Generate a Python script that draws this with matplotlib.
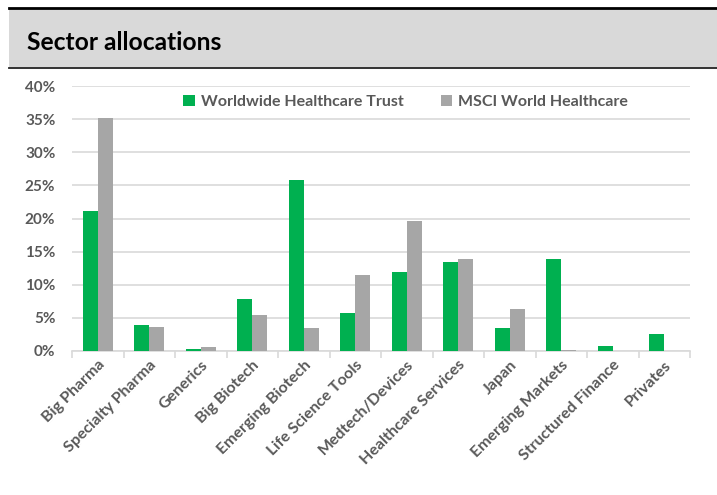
import matplotlib
matplotlib.use("Agg")
import matplotlib.pyplot as plt
import numpy as np
from matplotlib.patches import Rectangle
from matplotlib.lines import Line2D

categories = ["Big Pharma", "Specialty Pharma", "Generics", "Big Biotech", "Emerging Biotech",
              "Life Science Tools", "Medtech/Devices", "Healthcare Services", "Japan",
              "Emerging Markets", "Structured Finance", "Privates"]
trust = [21.2, 4.0, 0.3, 7.8, 25.8, 5.8, 11.9, 13.5, 3.4, 13.9, 0.75, 2.5]
msci = [35.2, 3.6, 0.55, 5.4, 3.4, 11.5, 19.6, 13.9, 6.4, 0.1, 0.0, 0.0]
series_names = ["Worldwide Healthcare Trust", "MSCI World Healthcare"]
yticks = [0, 5, 10, 15, 20, 25, 30, 35, 40]

GREEN = "#00B050"
GREY = "#A6A6A6"
TXT = "#595959"
FONT = "Lato"

fig = plt.figure(figsize=(7.17, 4.95), dpi=100)
W, H = 717, 495

# title band
fig.patches.append(Rectangle((9 / W, 1 - 67 / H), 1 - 9 / W, (67 - 9) / H,
                             transform=fig.transFigure, facecolor="#D9D9D9", edgecolor="none", zorder=0))
fig.lines.append(Line2D([9 / W, 1], [1 - 8 / H, 1 - 8 / H], transform=fig.transFigure, color="black", lw=2.0))
fig.lines.append(Line2D([9 / W, 1], [1 - 67.5 / H, 1 - 67.5 / H], transform=fig.transFigure, color="#222222", lw=1.3))
fig.text(27 / W, 1 - 43 / H, "Sector allocations", fontsize=17.7, fontweight="bold", family=FONT,
         color="black", va="center", ha="left")

ax = fig.add_axes([72 / W, 1 - 351 / H, (690 - 72) / W, (351 - 86) / H])
x = np.arange(len(categories))
bw = 0.29
ax.bar(x - bw / 2, trust, bw, color=GREEN, label=series_names[0], zorder=3)
ax.bar(x + bw / 2, msci, bw, color=GREY, label=series_names[1], zorder=3)

ax.set_xlim(-0.5, len(categories) - 0.5)
ax.set_ylim(0, 40)
ax.set_yticks(yticks)
ax.set_yticklabels([f"{v}%" for v in yticks], fontsize=11, fontweight="bold", color=TXT, family=FONT)
ax.yaxis.grid(True, color="#D9D9D9", lw=1.2, zorder=0)
ax.tick_params(axis="y", length=0, pad=12)
for s in ["top", "right", "left"]:
    ax.spines[s].set_visible(False)
ax.spines["bottom"].set_color("#D9D9D9")
ax.spines["bottom"].set_linewidth(1.2)

ax.set_xticks(x)
ax.set_xticklabels(categories, rotation=45, ha="right", rotation_mode="anchor",
                   fontsize=11.5, fontweight="bold", color=TXT, family=FONT)
ax.tick_params(axis="x", length=0, pad=5)
ax.set_xticks(np.arange(len(categories) + 1) - 0.5, minor=True)
ax.tick_params(axis="x", which="minor", length=5, color="#D9D9D9", width=1.2)

leg = ax.legend(loc="upper center", bbox_to_anchor=(0.54, 1.02), ncol=2, frameon=False,
                prop={"family": FONT, "weight": "bold", "size": 11.5},
                handlelength=0.7, handleheight=0.7, handletextpad=0.4, columnspacing=2.3)
for t in leg.get_texts():
    t.set_color(TXT)

fig.savefig("out.png", dpi=100)
